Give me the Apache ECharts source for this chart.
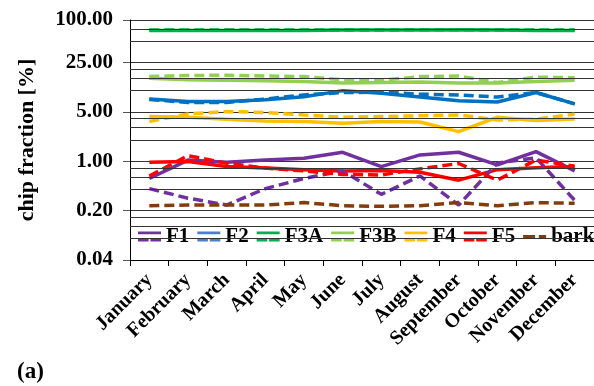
<!DOCTYPE html>
<html><head><meta charset="utf-8">
<script src="https://cdn.jsdelivr.net/npm/echarts@6/dist/echarts.min.js"></script>
<style>html,body{margin:0;padding:0;background:#fff}#c{width:594px;height:386px}</style>
</head><body><div id="c"></div>
<script>
const months = ['January','February','March','April','May','June','July','August','September','October','November','December'];
const minorGrid = [0.08,0.12,0.16,0.4,0.6,0.8,2,3,4,10,15,20,50,75];

const F1 = [0.57,1.04,0.97,1.04,1.10,1.34,0.84,1.23,1.34,0.89,1.37,0.73];
const F1d = [0.41,0.30,0.24,0.41,0.57,0.73,0.34,0.62,0.24,0.94,1.12,0.28];
const F2 = [7.6,7.0,7.0,7.4,8.2,10.0,9.2,8.1,7.2,6.9,9.4,6.5];
const F2d = [7.5,6.8,6.8,7.6,8.7,9.4,9.5,8.9,8.7,8.1,9.4,6.5];
const F3A = [71,71,71,71,71,72,72,72,73,72,71,71];
const F3Ad = [72,72,72,72,72,72,72,73,73,72,72,72];
const F3B = [15.0,14.2,14.0,13.8,13.5,12.8,13.0,13.3,12.8,12.8,13.5,14.0];
const F3Bd = [15.8,16.4,16.5,16.1,15.8,14.2,14.0,15.8,16.1,13.0,15.5,15.2];
const F4 = [4.3,4.2,3.94,3.72,3.66,3.46,3.66,3.6,2.63,4.2,3.77,3.95];
const F4d = [3.66,4.68,5.05,4.9,4.53,4.2,4.3,4.4,4.53,3.85,3.95,4.65];
const F5 = [0.97,0.99,0.84,0.80,0.76,0.73,0.74,0.70,0.54,0.76,0.81,0.84];
const F5d = [0.62,1.20,0.94,0.80,0.73,0.65,0.64,0.78,0.93,0.54,1.04,0.85];
const bark = [0.235,0.24,0.24,0.24,0.26,0.235,0.23,0.235,0.26,0.235,0.26,0.254];

const colors = {F1:'#7030A0',F2:'#0070C0',F3A:'#00B050',F3B:'#92D050',F4:'#FFC000',F5:'#FF0000',bark:'#843C0C'};
const FONT = '"Liberation Serif", "Times New Roman", serif';
const dash = [10,5];

function line(name, data, dashed){
  return {name, type:'line', data, symbol:'none', smooth:false, z: dashed?3:2,
    lineStyle:{color:colors[name], width:3.5, type: dashed?dash:'solid'},
    itemStyle:{color:colors[name]}};
}
const iconPair = 'path://M0,0H25V3H0Z M0,8H11.5V11H0Z M13.5,8H25V11H13.5Z';
const iconDash = 'path://M0,0H13V3H0Z M17,0H25V3H17Z';

const chart = echarts.init(document.getElementById('c'), null, {renderer:'canvas'});
chart.setOption({
  animation:false,
  backgroundColor:'#fff',
  grid:{left:130, right:-6, top:20, bottom:126, containLabel:false},
  xAxis:{type:'category', data:months, boundaryGap:true,
    axisLine:{lineStyle:{color:'#000', width:1}},
    axisTick:{show:true, length:6, lineStyle:{color:'#000'}},
    axisLabel:{rotate:45, margin:17, color:'#000', fontFamily:FONT, fontWeight:'bold', fontSize:20, interval:0},
    splitLine:{show:false}},
  yAxis:{type:'log', logBase:5, min:0.04, max:100, interval:1,
    name:'chip fraction [%]', nameLocation:'middle', nameGap:92,
    nameTextStyle:{color:'#000', fontFamily:FONT, fontWeight:'bold', fontSize:22},
    axisLine:{show:true, lineStyle:{color:'#000', width:1}},
    axisTick:{show:true, length:7, lineStyle:{color:'#555'}},
    axisLabel:{margin:17, color:'#000', fontFamily:FONT, fontWeight:'bold', fontSize:21,
      formatter:v=>Number(v).toFixed(2)},
    splitLine:{show:true, lineStyle:{color:'#333', width:1}},
    minorTick:{show:false}, minorSplitLine:{show:false}},
  legend:{left:131, top:213, width:520, orient:'horizontal', padding:[13,100,10,7],
    backgroundColor:'#fff', itemWidth:23, itemHeight:11, itemGap:8,
    textStyle:{color:'#000', fontFamily:FONT, fontWeight:'bold', fontSize:21},
    data:[
      {name:'F1', icon:iconPair},
      {name:'F2', icon:iconPair, itemStyle:{color:'#4A7FD0'}},
      {name:'F3A', icon:iconPair},
      {name:'F3B', icon:iconPair},
      {name:'F4', icon:iconPair},
      {name:'F5', icon:iconPair},
      {name:'bark', icon:iconDash}
    ]},
  graphic:[{type:'text', left:17, top:361, style:{text:'(a)', font:'bold 23px '+FONT, fill:'#000'}}],
  series:[
    {name:'_grid', type:'line', data:[], z:1, silent:true,
      markLine:{silent:true, symbol:['none','none'], label:{show:false},
        lineStyle:{color:'#333', width:1, type:'solid'},
        data:minorGrid.map(v=>({yAxis:v}))}},
    line('F1',F1,false), line('F2',F2,false), line('F3A',F3A,false), line('F3B',F3B,false),
    line('F4',F4,false), line('F5',F5,false),
    line('F1',F1d,true), line('F2',F2d,true), line('F3A',F3Ad,true), line('F3B',F3Bd,true),
    line('F4',F4d,true), line('F5',F5d,true), line('bark',bark,true)
  ]
});
</script></body></html>
